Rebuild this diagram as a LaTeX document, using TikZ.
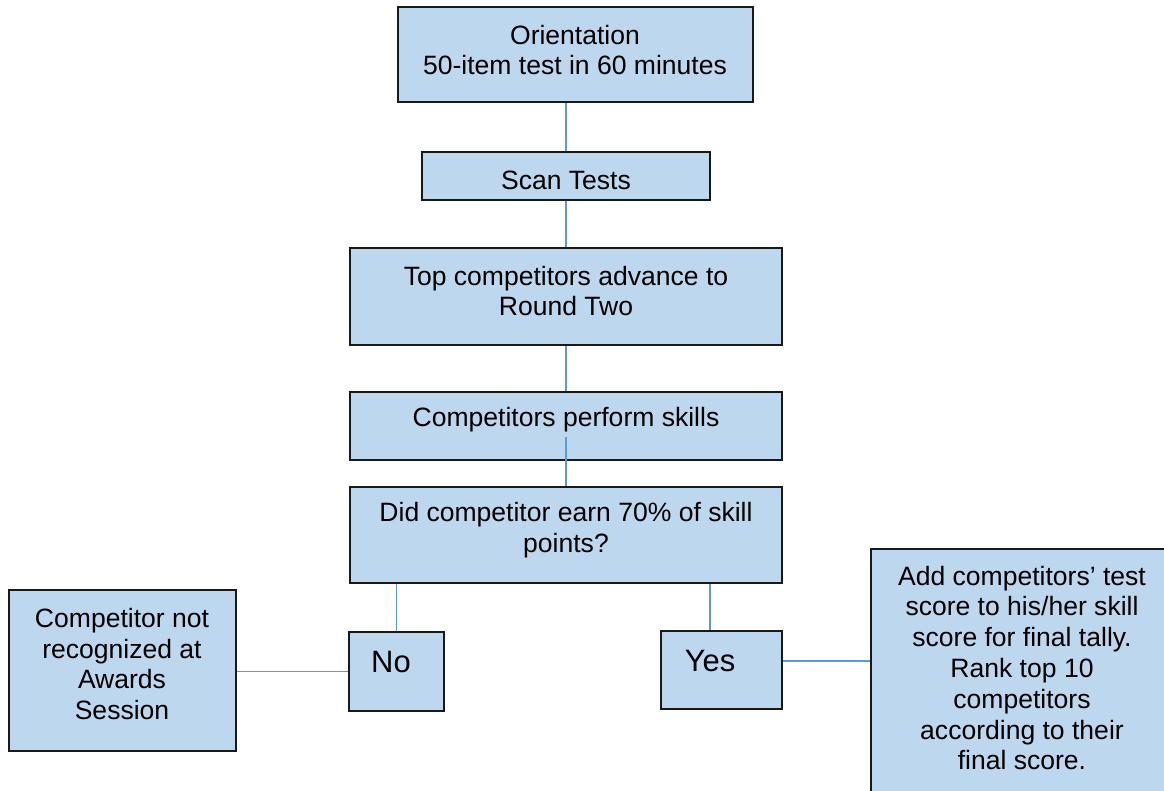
\documentclass[tikz,border=0pt]{standalone}
\usepackage{fontspec}
\setmainfont{Liberation Sans}
\usetikzlibrary{fit}
\definecolor{boxfill}{HTML}{BDD7EE}
\definecolor{wireblue}{HTML}{5B9BD5}

\begin{document}
\begin{tikzpicture}[x=.75pt,y=-.75pt,line join=miter,
  box/.style={draw=black!90,fill=boxfill,line width=1.1pt,inner sep=0pt},
  txt/.style={font=\fontsize{19.9}{23.1}\selectfont,align=center},
  bigtxt/.style={font=\fontsize{23.2}{27}\selectfont},
  wire/.style={draw=wireblue,line width=.8pt}]
  \useasboundingbox (0,0) rectangle (1164,790);
  \clip (0,0) rectangle (1164,790);
  % Main column.
  \node[box,fit={(398,7) (753,102)}] (orient) {};
  \node[txt] (orient-t) at (575,50) {Orientation\\50-item test in 60 minutes};
  \node[box,fit={(422,152) (710,200)}] (scan) {};
  \node[txt] (scan-t) at (566,180) {Scan Tests};
  \node[box,fit={(350,248) (782,345)}] (advance) {};
  \node[txt] (advance-t) at (566,291) {Top competitors advance to\\Round Two};
  \node[box,fit={(350,392) (782,460)}] (skills) {};
  \node[txt] (skills-t) at (566,420) {Competitors perform skills};
  \node[box,fit={(350,487) (782,583)}] (decide) {};
  \node[txt] (decide-t) at (566,530) {Did competitor earn 70\% of skill\\points?};
  % Outcomes.
  \node[box,fit={(349,632) (444,711)}] (no) {};
  \node[txt,bigtxt] (no-t) at (391,662) {No};
  \node[box,fit={(661,631) (782,709)}] (yes) {};
  \node[txt,bigtxt] (yes-t) at (710,661) {Yes};
  \node[box,fit={(9,590) (236,751)}] (notrec) {};
  \node[txt] (notrec-t) at (122,664)
    {Competitor not\\recognized at\\Awards\\Session};
  \node[box,fit={(871,549) (1175,805)}] (final) {};
  \node[txt] (final-t) at (1022,668)
    {Add competitors’ test\\score to his/her skill\\score for final tally.\\Rank top 10\\competitors\\according to their\\final score.};
  % Connectors.
  \draw[wire] (scan.north) -- (scan.north |- orient.south);
  \draw[wire] (scan.south) -- (advance.north);
  \draw[wire] (advance.south) -- (skills.north);
  \draw[wire] (skills-t.south) -- (decide.north);
  \draw[wire] (no.north) -- (no.north |- decide.south);
  \draw[wire] (yes-t |- decide.south) -- (yes-t |- yes.north);
  \draw[wire] (no.west) -- (notrec.east |- no.west);
  \draw[wire] (yes.east |- yes-t) -- (final.west |- yes-t);
\end{tikzpicture}
\end{document}
